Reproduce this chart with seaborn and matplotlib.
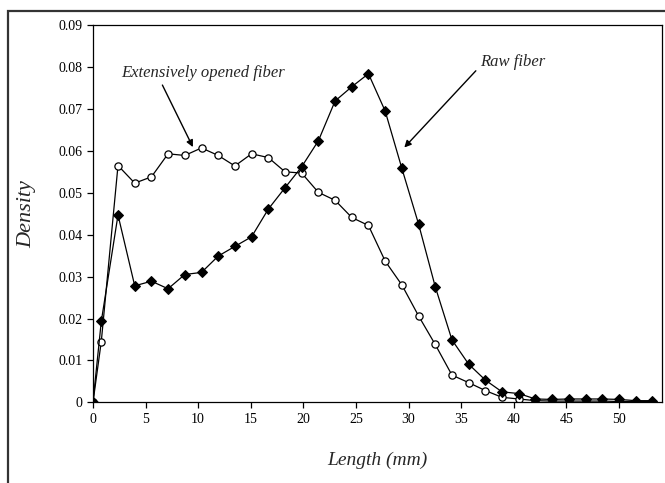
import matplotlib
matplotlib.use("Agg")
import matplotlib.pyplot as plt
from matplotlib.patches import Rectangle
import pandas as pd
import seaborn as sns

# fiber length classes (mm), 1/16 inch bins
length_mm = [0, 0.79, 2.38, 3.97, 5.56, 7.14, 8.73, 10.32, 11.91, 13.49, 15.08,
             16.67, 18.26, 19.84, 21.43, 23.02, 24.61, 26.19, 27.78, 29.37, 30.96,
             32.54, 34.13, 35.72, 37.31, 38.89, 40.48, 42.07, 43.66, 45.24, 46.83,
             48.42, 50.01, 51.59, 53.18]

opened_density = [0, 0.0145, 0.0565, 0.0523, 0.0538, 0.0593, 0.0589, 0.0607, 0.0589,
                  0.0564, 0.0593, 0.0584, 0.0550, 0.0547, 0.0501, 0.0482, 0.0441,
                  0.0422, 0.0337, 0.0280, 0.0206, 0.0138, 0.0065, 0.0047, 0.0028,
                  0.0012, 0.0008, 0.0004, 0.0003, 0.0003, 0.0003, 0.0003, 0.0002,
                  0.0002, 0.0002]

raw_density = [0, 0.0193, 0.0447, 0.0278, 0.0289, 0.0271, 0.0305, 0.0310, 0.0349,
               0.0372, 0.0395, 0.0461, 0.0512, 0.0562, 0.0624, 0.0719, 0.0753,
               0.0784, 0.0695, 0.0558, 0.0425, 0.0276, 0.0149, 0.0091, 0.0053,
               0.0025, 0.0021, 0.0008, 0.0007, 0.0008, 0.0008, 0.0008, 0.0007,
               0.0004, 0.0004]

x_ticks = [0, 5, 10, 15, 20, 25, 30, 35, 40, 45, 50]
y_ticks = [0, 0.01, 0.02, 0.03, 0.04, 0.05, 0.06, 0.07, 0.08, 0.09]
y_tick_labels = ["0", "0.01", "0.02", "0.03", "0.04", "0.05", "0.06", "0.07", "0.08", "0.09"]

df = pd.DataFrame({"length": length_mm, "opened": opened_density, "raw": raw_density})

sns.set_style("ticks")
plt.rcParams["font.family"] = ["Liberation Serif", "DejaVu Serif"]

fig = plt.figure(figsize=(6.65, 4.83), dpi=100)
ax = fig.add_axes([0.1398, 0.167, 0.8557, 0.781])

# opened fiber: open circles
sns.lineplot(data=df, x="length", y="opened", ax=ax, color="black", lw=0.9,
             marker="o", markersize=5.2, markerfacecolor="white",
             markeredgecolor="black", markeredgewidth=0.9)
# raw fiber: filled diamonds
sns.lineplot(data=df, x="length", y="raw", ax=ax, color="black", lw=0.9,
             marker="D", markersize=4.8, markerfacecolor="black",
             markeredgecolor="black")

ax.set_xlim(0, 54.1)
ax.set_ylim(0, 0.09)
ax.set_xticks(x_ticks)
ax.set_yticks(y_ticks)
ax.set_yticklabels(y_tick_labels)
ax.tick_params(labelsize=10, length=4, width=0.9, colors="black")
for s in ax.spines.values():
    s.set_linewidth(0.9)
    s.set_color("black")

ax.set_xlabel("Length (mm)", fontsize=14, style="italic", labelpad=19)
ax.set_ylabel("Density", fontsize=16, style="italic", labelpad=16)

# labels and pointer arrows
ax.text(10.5, 0.0786, "Extensively opened fiber", fontsize=12, style="italic",
        ha="center", va="center")
ax.annotate("", xy=(9.5, 0.0609), xytext=(6.6, 0.0757),
            arrowprops=dict(arrowstyle="-|>", color="black", lw=1,
                            mutation_scale=10, shrinkA=0, shrinkB=0))
ax.text(39.9, 0.0812, "Raw fiber", fontsize=12, style="italic",
        ha="center", va="center")
ax.annotate("", xy=(29.6, 0.0608), xytext=(36.4, 0.0791),
            arrowprops=dict(arrowstyle="-|>", color="black", lw=1,
                            mutation_scale=10, shrinkA=0, shrinkB=0))

# outer frame around the figure (cut at right and bottom)
fig.add_artist(Rectangle((8 / 665, -0.05), 1.1, 1 - 11 / 483 + 0.05,
                         transform=fig.transFigure, fill=False,
                         edgecolor="#333333", lw=1.6))

fig.savefig("out.png", dpi=100)
